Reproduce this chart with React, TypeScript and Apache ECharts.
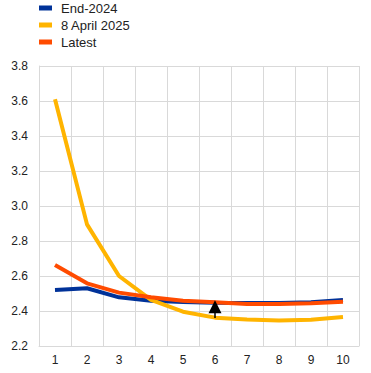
import React, { useEffect, useRef } from "react";
import * as echarts from "echarts";

const categories = ["1", "2", "3", "4", "5", "6", "7", "8", "9", "10"];
const end2024 = [2.52, 2.53, 2.478, 2.459, 2.451, 2.447, 2.446, 2.446, 2.45, 2.463];
const april2025 = [3.61, 2.895, 2.6, 2.463, 2.396, 2.362, 2.352, 2.346, 2.35, 2.366];
const latest = [2.663, 2.558, 2.505, 2.478, 2.459, 2.45, 2.44, 2.44, 2.444, 2.453];
const arrowFrom = 2.36;
const arrowTo = 2.425;
const arrowCategory = "6";

const FONT = "'Liberation Sans', Arial, sans-serif";

export default function App() {
  const ref = useRef<HTMLDivElement>(null);
  useEffect(() => {
    if (!ref.current) return;
    const chart = echarts.init(ref.current, null, { renderer: "svg" });
    chart.setOption({
      animation: false,
      textStyle: { fontFamily: FONT },
      legend: {
        orient: "vertical",
        left: 39,
        top: 1,
        padding: 0,
        itemWidth: 13,
        itemHeight: 5,
        itemGap: 3,
        icon: "rect",
        textStyle: {
          fontSize: 13,
          color: "#222",
          fontFamily: FONT,
          lineHeight: 14,
          padding: [0, 0, 0, 4],
        },
        data: ["End-2024", "8 April 2025", "Latest"],
      },
      grid: { left: 39, right: 12, top: 66, bottom: 27, containLabel: false },
      xAxis: {
        type: "category",
        data: categories,
        boundaryGap: true,
        axisLine: { show: true, lineStyle: { color: "#d9d9d9", width: 1 } },
        axisTick: { show: false },
        axisLabel: { color: "#222", fontSize: 12, fontFamily: FONT, margin: 8, interval: 0 },
        splitLine: { show: true, interval: 0, lineStyle: { color: "#d9d9d9", width: 1 } },
      },
      yAxis: {
        type: "value",
        min: 2.2,
        max: 3.8,
        interval: 0.2,
        axisLine: { show: true, lineStyle: { color: "#d9d9d9", width: 1 } },
        axisTick: { show: false },
        axisLabel: {
          color: "#222",
          fontSize: 12,
          fontFamily: FONT,
          margin: 11,
          formatter: (v: number) => v.toFixed(1),
        },
        splitLine: { show: true, lineStyle: { color: "#d9d9d9", width: 1 } },
      },
      series: [
        {
          name: "End-2024",
          type: "line",
          data: end2024,
          symbol: "none",
          color: "#003299",
          lineStyle: { width: 4, color: "#003299" },
          z: 2,
        },
        {
          name: "8 April 2025",
          type: "line",
          data: april2025,
          symbol: "none",
          color: "#FFB400",
          lineStyle: { width: 4, color: "#FFB400" },
          z: 3,
        },
        {
          name: "Latest",
          type: "line",
          data: latest,
          symbol: "none",
          color: "#FF4B00",
          lineStyle: { width: 4, color: "#FF4B00" },
          z: 4,
          markLine: {
            silent: true,
            symbol: ["none", "triangle"],
            symbolSize: [13, 13],
            label: { show: false },
            lineStyle: { color: "#000", width: 1.5, type: "solid" },
            itemStyle: { color: "#000" },
            z: 10,
            data: [
              [
                { coord: [arrowCategory, arrowFrom] },
                { coord: [arrowCategory, arrowTo] },
              ],
            ],
          },
        },
      ],
    });
    return () => chart.dispose();
  }, []);
  return (
    <div
      ref={ref}
      style={{ position: "absolute", left: 0, top: 0, width: 371, height: 373 }}
    />
  );
}
